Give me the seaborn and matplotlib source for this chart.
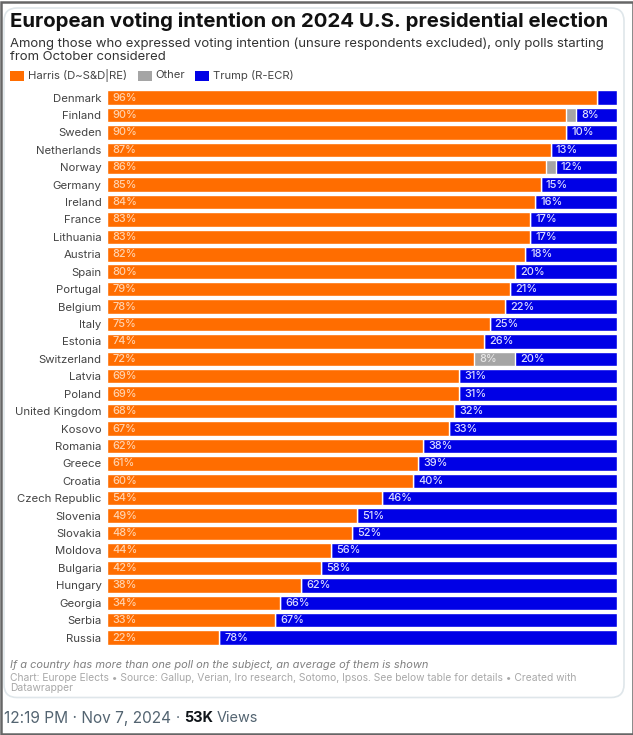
import matplotlib
matplotlib.use("Agg")
import matplotlib.pyplot as plt
from matplotlib.patches import FancyBboxPatch, Rectangle
import pandas as pd
import seaborn as sns

countries = ["Denmark", "Finland", "Sweden", "Netherlands", "Norway", "Germany", "Ireland", "France",
             "Lithuania", "Austria", "Spain", "Portugal", "Belgium", "Italy", "Estonia", "Switzerland",
             "Latvia", "Poland", "United Kingdom", "Kosovo", "Romania", "Greece", "Croatia",
             "Czech Republic", "Slovenia", "Slovakia", "Moldova", "Bulgaria", "Hungary", "Georgia",
             "Serbia", "Russia"]
harris = [96, 90, 90, 87, 86, 85, 84, 83, 83, 82, 80, 79, 78, 75, 74, 72,
          69, 69, 68, 67, 62, 61, 60, 54, 49, 48, 44, 42, 38, 34, 33, 22]
other = [0, 2, 0, 0, 2, 0, 0, 0, 0, 0, 0, 0, 0, 0, 0, 8,
         0, 0, 0, 0, 0, 0, 0, 0, 0, 0, 0, 0, 0, 0, 0, 0]
trump = [4, 8, 10, 13, 12, 15, 16, 17, 17, 18, 20, 21, 22, 25, 26, 20,
         31, 31, 32, 33, 38, 39, 40, 46, 51, 52, 56, 58, 62, 66, 67, 78]

ORANGE = "#ff6d00"
GREY = "#a5a5a5"
BLUE = "#0000e6"
W, H = 633, 735

df = pd.DataFrame({"country": countries, "harris": harris, "other": other, "trump": trump})
df["to_other"] = df["harris"] + df["other"]
df["total"] = df["to_other"] + df["trump"]

sns.set_theme(style="white")
plt.rcParams["font.family"] = ["Inter", "DejaVu Sans"]

fig = plt.figure(figsize=(W / 100, H / 100), dpi=100, facecolor="white")


def ptext(x, y, s, **kw):
    # x, y are pixels from the top left
    fig.text(x / W, 1 - y / H, s, va="center", **kw)


# screenshot frame and the card behind the chart
bg = fig.add_axes([0, 0, 1, 1], zorder=0)
bg.set_xlim(0, W)
bg.set_ylim(H, 0)
bg.axis("off")
bg.add_patch(Rectangle((0.5, 1.5), W - 1, H - 2.5, fc="white", ec="#666666", lw=1.8))
bg.add_patch(FancyBboxPatch((16, 20), 596, 665.5, boxstyle="round,pad=12,rounding_size=13",
                            fc="white", ec="#dfe6ea", lw=1.2))

# stacked from the back: full bar in blue, then other, then harris on top
ax = fig.add_axes([107 / W, 1 - 646.3 / H, 510 / W, (646.3 - 88.8) / H], zorder=1)
ax.patch.set_alpha(0)
sns.barplot(data=df, y="country", x="total", color=BLUE, width=0.83, saturation=1, ax=ax)
sns.barplot(data=df, y="country", x="to_other", color=GREY, width=0.83, saturation=1, ax=ax)
sns.barplot(data=df, y="country", x="harris", color=ORANGE, width=0.83, saturation=1, ax=ax)
ax.set_xlim(0, 100)
ax.set_ylim(31.5, -0.5)
ax.set_xlabel("")
ax.set_ylabel("")
ax.set_xticks([])
ax.tick_params(axis="y", length=0, pad=4, labelsize=8.2, labelcolor="#444444")
sns.despine(ax=ax, left=True, bottom=True)

for i, row in df.iterrows():
    ax.text(1, i, f"{row.harris}%", color="#ffd2ad", fontsize=7.9, va="center", fontweight="medium")
    if row.trump >= 8:
        ax.text(row.to_other + 1, i, f"{row.trump}%", color="#dcdcff", fontsize=7.9, va="center", fontweight="medium")
    if row.other >= 8:
        ax.text(row.harris + 1, i, f"{row.other}%", color="#e6e6e6", fontsize=7.9, va="center", fontweight="medium")

ptext(10, 21.5, "European voting intention on 2024 U.S. presidential election", fontsize=14.66, fontweight="bold", color="#111111")
ptext(10, 44, "Among those who expressed voting intention (unsure respondents excluded), only polls starting",
      fontsize=9.45, color="#333333")
ptext(10, 56.5, "from October considered", fontsize=9.45, color="#333333")

# legend
for x0, c in [(10, ORANGE), (138, GREY), (195, BLUE)]:
    bg.add_patch(Rectangle((x0, 71), 14, 9.5, fc=c, ec="none"))
ptext(27.5, 75.5, "Harris (D~S&D|RE)", fontsize=8.1, color="#444444")
ptext(155, 75.5, "Other", fontsize=8.1, color="#444444")
ptext(213, 75.5, "Trump (R-ECR)", fontsize=8.1, color="#444444")

ptext(10, 665, "If a country has more than one poll on the subject, an average of them is shown",
      fontsize=7.95, style="italic", color="#808080")
ptext(10, 678, "Chart: Europe Elects \u2022 Source: Gallup, Verian, Iro research, Sotomo, Ipsos. See below table for details \u2022 Created with",
      fontsize=7.4, color="#a8a8a8")
ptext(10, 688, "Datawrapper", fontsize=7.4, color="#a8a8a8")

ptext(4, 718, "12:19 PM \u00b7 Nov 7, 2024", fontsize=11.1, color="#536471")
ptext(176, 718, "\u00b7", fontsize=10.4, color="#536471")
ptext(184, 718, "53K", fontsize=10.4, fontweight="bold", color="#0f1419")
ptext(217, 718, "Views", fontsize=10.4, color="#536471")

fig.savefig("out.png", dpi=100)
